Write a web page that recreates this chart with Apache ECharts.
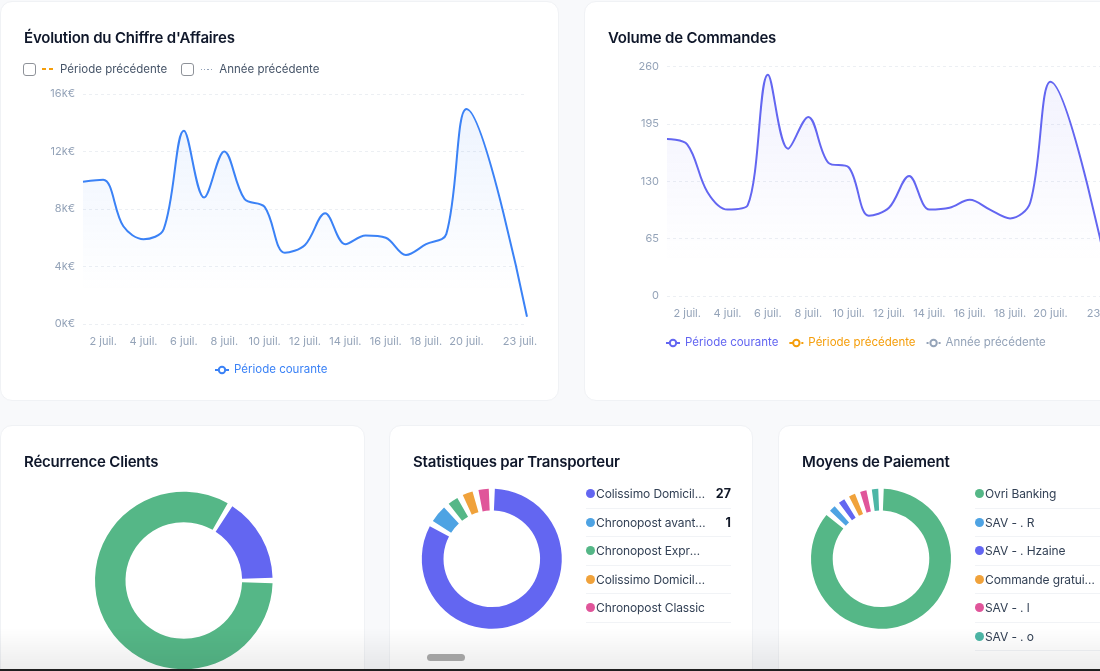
<!DOCTYPE html>
<html lang="fr">
<head>
<meta charset="utf-8">
<script src="https://cdn.jsdelivr.net/npm/echarts@6/dist/echarts.min.js"></script>
<style>
html,body{margin:0;padding:0;width:1100px;height:671px;overflow:hidden;background:#f8f9fb;font-family:Inter,"Noto Sans",sans-serif;}
.card{position:absolute;background:#fff;border-radius:12px;border:1px solid #f0f2f5;box-sizing:border-box;overflow:hidden;}
.title{position:absolute;left:23px;top:25px;font-size:15px;font-weight:600;color:#0f172a;line-height:22px;white-space:nowrap;letter-spacing:-0.2px;}
.chart{position:absolute;left:0;top:0;}
.toggles{position:absolute;left:22px;top:60px;height:14px;display:flex;align-items:center;font-size:11.5px;color:#475569;white-space:nowrap;}
.cb{width:11px;height:11px;border:1.5px solid #8e9299;border-radius:3px;display:inline-block;box-sizing:content-box;}
.dash{display:inline-block;width:11px;height:2px;margin:0 7px 0 6px;background:linear-gradient(90deg,#f59e0b 0,#f59e0b 4px,transparent 4px,transparent 7px,#f59e0b 7px,#f59e0b 11px);}
.dot{display:inline-block;width:11px;height:1px;margin:0 7px 0 7px;background:repeating-linear-gradient(90deg,#94a3b8 0,#94a3b8 1.2px,transparent 1.2px,transparent 3.2px);}
.list{position:absolute;left:196px;top:54px;width:145px;overflow:hidden;}
.row{display:flex;align-items:center;width:153px;height:27.5px;border-bottom:1px solid #f1f3f6;font-size:12px;color:#334155;}
.sw{width:9px;height:9px;border-radius:50%;flex:0 0 9px;margin-right:1px;}
.nm{flex:0 0 110px;width:110px;overflow:hidden;text-overflow:ellipsis;white-space:nowrap;letter-spacing:-0.1px;}
.vl{flex:1;text-align:right;font-weight:700;font-size:12.5px;color:#111827;white-space:nowrap;}
.list.wide{width:300px;}
</style>
</head>
<body>
<div class="card" style="left:0;top:1px;width:559px;height:400px;">
  <div class="chart" id="c1" style="width:559px;height:400px;"></div>
  <div class="title">Évolution du Chiffre d'Affaires</div>
  <div class="toggles"><span class="cb"></span><span class="dash"></span>Période précédente<span class="cb" style="margin-left:14px"></span><span class="dot"></span>Année précédente</div>
</div>
<div class="card" style="left:584px;top:1px;width:559px;height:400px;">
  <div class="chart" id="c2" style="width:559px;height:400px;"></div>
  <div class="title">Volume de Commandes</div>
</div>
<div class="card" style="left:0;top:425px;width:365px;height:300px;">
  <div class="chart" id="c3" style="width:365px;height:300px;"></div>
  <div class="title">Récurrence Clients</div>
</div>
<div class="card" style="left:389px;top:425px;width:364px;height:300px;">
  <div class="chart" id="c4" style="width:364px;height:300px;"></div>
  <div class="title">Statistiques par Transporteur</div>
  <div class="list" id="l4"></div>
</div>
<div class="card" style="left:778px;top:425px;width:364px;height:300px;">
  <div class="chart" id="c5" style="width:364px;height:300px;"></div>
  <div class="title">Moyens de Paiement</div>
  <div class="list wide" id="l5"></div>
</div>
<div style="position:absolute;left:0;top:628px;width:1100px;height:41px;background:linear-gradient(rgba(0,0,0,0),rgba(0,0,0,0.07));pointer-events:none;"></div>
<div style="position:absolute;left:427px;top:654px;width:38px;height:7px;border-radius:4px;background:#a3a3a3;"></div>
<div style="position:absolute;left:0;top:669px;width:1100px;height:2px;background:#1f1f1f;"></div>
<script>
// ---- Data ----
const dates = ['1 juil.','2 juil.','3 juil.','4 juil.','5 juil.','6 juil.','7 juil.','8 juil.','9 juil.','10 juil.','11 juil.','12 juil.','13 juil.','14 juil.','15 juil.','16 juil.','17 juil.','18 juil.','19 juil.','20 juil.','21 juil.','22 juil.','23 juil.'];
// no data for 21 and 22 juil. (null)
const caCourant = [9900,10030,6800,5900,6600,13450,8800,12000,8700,8150,4950,5500,7700,5550,6150,6000,4800,5550,6250,14950,null,null,500];
const commandesCourant = [178,172,118,98,103,251,167,203,151,146,91,100,136,98,100,109,98,88,106,243,null,null,8];
const commandesPrecedente = [];
const commandesAnneePrec = [];
const caTickMax = 16000, caTickStep = 4000;
const cmdTickMax = 260, cmdTickStep = 65;
const shownDateIdx = [1,3,5,7,9,11,13,15,17,19,22];

const recurrenceNoms = ['Nouveaux clients','Clients récurrents'];
const recurrenceValeurs = [257,50];
const recurrenceCouleurs = ['#55b787','#6366f1'];

const transporteurNoms = ['Colissimo Domicile sans signature','Chronopost avant 13h','Chronopost Express','Colissimo Domicile avec signature','Chronopost Classic'];
const transporteurValeurs = [279,18,5,2,1];
const transporteurCouleurs = ['#6366f1','#4ea3e3','#55b787','#f0a23b','#e0559a'];

const paiementNoms = ['Ovri Banking','SAV - . R','SAV - . Hzaine','Commande gratuite','SAV - . l','SAV - . o'];
const paiementValeurs = [650,3,2,2,2,2];
const paiementCouleurs = ['#55b787','#4ea3e3','#6366f1','#f0a23b','#e0559a','#4db6a6'];

// ---- Helpers ----
const FONT = 'Inter';
const axisGrey = '#94a3b8';
function lineOption(opts){
  return {
    animation:false,
    textStyle:{fontFamily:FONT},
    grid:{left:82,right:33,top:opts.top,bottom:opts.bottom},
    xAxis:{type:'category',data:dates,boundaryGap:false,
      axisLine:{show:false},axisTick:{show:false},
      axisLabel:{color:axisGrey,fontSize:11,fontFamily:FONT,margin:12,
        interval:function(i){return shownDateIdx.indexOf(i)>=0;},
        formatter:function(v,i){return i===dates.length-1?'{e|'+v+'}':v;},
        rich:{e:{color:axisGrey,fontSize:11,fontFamily:FONT,padding:[0,14,0,0]}}},
      splitLine:{show:false}},
    yAxis:{type:'value',min:0,max:opts.max,interval:opts.step,
      axisLine:{show:false},axisTick:{show:false},
      axisLabel:{color:axisGrey,fontSize:11,fontFamily:FONT,margin:8,formatter:opts.fmt},
      splitLine:{lineStyle:{color:'#eceff3',type:[3,3]}}},
    legend:{left:opts.legendLeft,top:opts.legendTop,padding:0,itemWidth:14,itemHeight:8,itemGap:10,
      textStyle:{fontSize:11.5,fontFamily:FONT},data:opts.legendData},
    series:opts.series
  };
}
function area(color,a){
  return {type:'linear',x:0,y:0,x2:0,y2:1,colorStops:[{offset:0,color:'rgba('+color+','+a+')'},{offset:0.85,color:'rgba('+color+',0.0)'}]};
}

const c1 = echarts.init(document.getElementById('c1'),null,{renderer:'canvas'});
c1.setOption(lineOption({
  top:92,bottom:78,max:caTickMax,step:caTickStep,
  fmt:function(v){return (v/1000)+'k€';},
  legendLeft:213,legendTop:362,
  legendData:[{name:'Période courante',textStyle:{color:'#3b82f6'}}],
  series:[{name:'Période courante',type:'line',data:caCourant,smooth:0.35,connectNulls:true,
    showSymbol:false,symbol:'emptyCircle',color:'#3b82f6',lineStyle:{width:2,color:'#3b82f6'},
    areaStyle:{color:area('59,130,246',0.13)}}]
}));

const c2 = echarts.init(document.getElementById('c2'),null,{renderer:'canvas'});
c2.setOption(lineOption({
  top:64.7,bottom:106,max:cmdTickMax,step:cmdTickStep,
  fmt:function(v){return v;},
  legendLeft:80,legendTop:335,
  legendData:[{name:'Période courante',textStyle:{color:'#6366f1'}},{name:'Période précédente',textStyle:{color:'#f59e0b'}},{name:'Année précédente',textStyle:{color:'#94a3b8'}}],
  series:[
    {name:'Période courante',type:'line',data:commandesCourant,smooth:0.35,connectNulls:true,
      showSymbol:false,symbol:'emptyCircle',color:'#6366f1',lineStyle:{width:2,color:'#6366f1'},
      areaStyle:{color:area('99,102,241',0.12)}},
    {name:'Période précédente',type:'line',data:commandesPrecedente,symbol:'emptyCircle',showSymbol:false,color:'#f59e0b',lineStyle:{type:'dashed'}},
    {name:'Année précédente',type:'line',data:commandesAnneePrec,symbol:'emptyCircle',showSymbol:false,color:'#94a3b8',lineStyle:{type:'dotted'}}
  ]
}));

function pieOption(names,vals,cols,o){
  return {animation:false,
    series:[{type:'pie',silent:true,radius:o.radius,center:o.center,startAngle:o.start,clockwise:true,
      padAngle:o.pad,minAngle:o.min||0,label:{show:false},labelLine:{show:false},
      emphasis:{disabled:true},
      data:vals.map(function(v,i){return {value:v,name:names[i],itemStyle:{color:cols[i]}};})}]};
}
echarts.init(document.getElementById('c3')).setOption(pieOption(recurrenceNoms,recurrenceValeurs,recurrenceCouleurs,
  {radius:[58.3,88.8],center:[182.8,154.5],start:0,pad:3.5}));
echarts.init(document.getElementById('c4')).setOption(pieOption(transporteurNoms,transporteurValeurs,transporteurCouleurs,
  {radius:[48.3,70],center:[101.8,132.8],start:90,pad:5,min:8.5}));
echarts.init(document.getElementById('c5')).setOption(pieOption(paiementNoms,paiementValeurs,paiementCouleurs,
  {radius:[48.3,70],center:[102,132.8],start:90,pad:4.5,min:5.3}));

function buildList(id,names,vals,cols){
  const el=document.getElementById(id);
  names.forEach(function(n,i){
    const r=document.createElement('div');r.className='row';
    r.innerHTML='<span class="sw" style="background:'+cols[i]+'"></span><span class="nm">'+n+'</span><span class="vl">'+vals[i]+'</span>';
    el.appendChild(r);
  });
}
buildList('l4',transporteurNoms,transporteurValeurs,transporteurCouleurs);
buildList('l5',paiementNoms,paiementValeurs,paiementCouleurs);
</script>
</body>
</html>
